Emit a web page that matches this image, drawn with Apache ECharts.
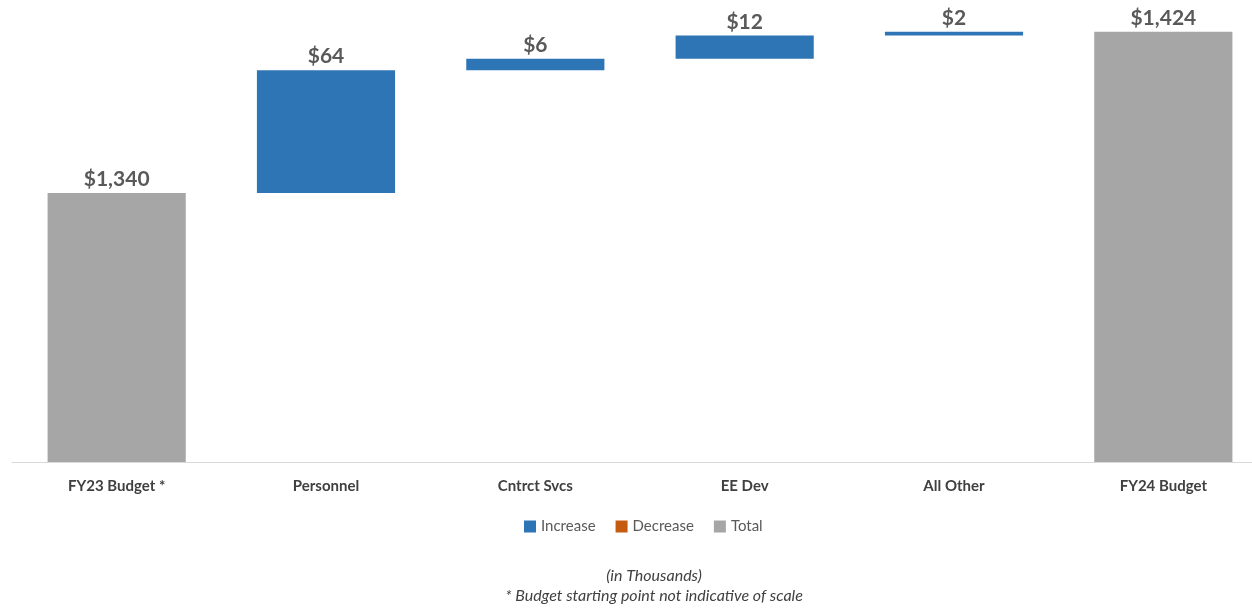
<!DOCTYPE html>
<html>
<head>
<meta charset="utf-8">
<script src="https://cdn.jsdelivr.net/npm/echarts@6/dist/echarts.min.js"></script>
<style>
    html, body { margin: 0; padding: 0; background: #fff; overflow: hidden; }
    #main { width: 1268px; height: 611px; }
</style>
</head>
<body>
<div id="main"></div>
<script>
// 瀑布图数据
var categories = ['FY23 Budget *', 'Personnel', 'Cntrct Svcs', 'EE Dev', 'All Other', 'FY24 Budget'];
var baseValues = [0, 1340, 1404, 1410, 1422, 0];
var increaseValues = ['-', 64, 6, 12, 2, '-'];
var decreaseValues = ['-', '-', '-', '-', '-', '-'];
var totalValues = [1340, '-', '-', '-', '-', 1424];

var myChart = echarts.init(document.getElementById('main'));

function money(p) {
    return '$' + echarts.format.addCommas(p.value);
}

var labelStyle = {
    show: true,
    position: 'top',
    distance: 3,
    formatter: money,
    color: '#595959',
    fontFamily: 'Lato',
    fontWeight: 'bold',
    fontSize: 21
};

var option = {
    animation: false,
    grid: {
        left: 12,
        top: 1,
        right: 0,
        bottom: 149
    },
    legend: {
        data: ['Increase', 'Decrease', 'Total'],
        top: 514,
        left: 519,
        itemWidth: 12,
        itemHeight: 12,
        itemGap: 20,
        icon: 'rect',
        textStyle: {
            color: '#595959',
            fontFamily: 'Lato',
            fontSize: 15
        }
    },
    xAxis: {
        type: 'category',
        data: categories,
        axisTick: { show: false },
        axisLine: { lineStyle: { color: '#d9d9d9', width: 1 } },
        axisLabel: {
            color: '#404040',
            fontFamily: 'Lato',
            fontWeight: 'bold',
            fontSize: 15,
            margin: 17
        }
    },
    yAxis: {
        type: 'value',
        min: 1200,
        max: 1440,
        show: false
    },
    graphic: [
        {
            type: 'text',
            x: 654,
            y: 568,
            style: {
                text: '(in Thousands)',
                fill: '#404040',
                font: 'italic 16px Lato',
                align: 'center'
            }
        },
        {
            type: 'text',
            x: 654,
            y: 588,
            style: {
                text: '* Budget starting point not indicative of scale',
                fill: '#404040',
                font: 'italic 16px Lato',
                align: 'center'
            }
        }
    ],
    series: [
        {
            name: 'base',
            type: 'bar',
            stack: 'all',
            barWidth: '66%',
            silent: true,
            itemStyle: { color: 'transparent' },
            data: baseValues
        },
        {
            name: 'Increase',
            type: 'bar',
            stack: 'all',
            itemStyle: { color: '#2e75b6' },
            label: labelStyle,
            data: increaseValues
        },
        {
            name: 'Decrease',
            type: 'bar',
            stack: 'all',
            itemStyle: { color: '#c55a11' },
            label: labelStyle,
            data: decreaseValues
        },
        {
            name: 'Total',
            type: 'bar',
            stack: 'all',
            itemStyle: { color: '#a6a6a6' },
            label: labelStyle,
            data: totalValues
        }
    ]
};
myChart.setOption(option);
</script>
</body>
</html>
